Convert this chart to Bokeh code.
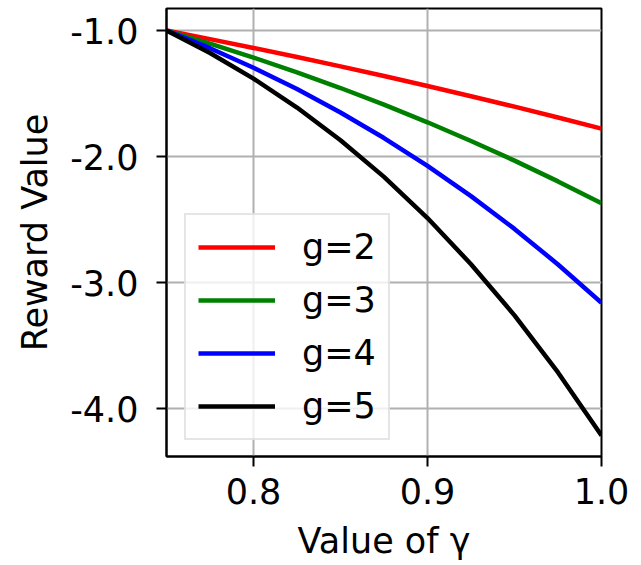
from bokeh.plotting import figure
from bokeh.models import Range1d, FixedTicker, Legend, LegendItem, CustomJSTickFormatter
from bokeh.embed import file_html
from bokeh.resources import INLINE

gamma = [0.75, 0.775, 0.8, 0.825, 0.85, 0.875, 0.9, 0.925, 0.95, 0.975, 1.0]
g2 = [-1.0, -1.068, -1.138, -1.21, -1.284, -1.361, -1.44, -1.521, -1.604, -1.69, -1.778]
g3 = [-1.0, -1.103, -1.214, -1.331, -1.456, -1.588, -1.728, -1.876, -2.032, -2.197, -2.37]
g4 = [-1.0, -1.14, -1.295, -1.464, -1.65, -1.853, -2.074, -2.314, -2.574, -2.856, -3.16]
g5 = [-1.0, -1.178, -1.381, -1.611, -1.87, -2.161, -2.488, -2.854, -3.26, -3.713, -4.214]
labels = ["g=2", "g=3", "g=4", "g=5"]
colors = ["#ff0000", "#008000", "#0000ff", "#000000"]
x_ticks = [0.8, 0.9, 1.0]
y_ticks = [-1.0, -2.0, -3.0, -4.0]

FONT = "DejaVu Sans"

p = figure(width=641, height=565, output_backend="svg", toolbar_location=None,
           x_range=Range1d(0.75, 1.0), y_range=Range1d(-4.38, -0.825),
           min_border_left=166, min_border_right=40, min_border_top=8, min_border_bottom=109)

renderers = []
for ys, c in zip([g2, g3, g4, g5], colors):
    r = p.line(gamma, ys, line_color=c, line_width=4.5)
    renderers.append(r)

p.outline_line_color = "black"
p.outline_line_width = 2
p.background_fill_color = "white"

for ax in (p.xaxis[0], p.yaxis[0]):
    ax.axis_line_width = 2
    ax.axis_line_color = "black"
    ax.major_tick_line_width = 2
    ax.major_tick_in = 0
    ax.major_tick_out = 10
    ax.minor_tick_line_color = None
    ax.major_label_text_font = FONT
    ax.major_label_text_font_size = "35px"
    ax.major_label_text_color = "black"
    ax.axis_label_text_font = FONT
    ax.axis_label_text_font_size = "35px"
    ax.axis_label_text_font_style = "normal"
    ax.axis_label_text_color = "black"

p.xaxis[0].ticker = FixedTicker(ticks=x_ticks)
p.yaxis[0].ticker = FixedTicker(ticks=y_ticks)
p.xaxis[0].formatter = CustomJSTickFormatter(code="return tick.toFixed(1);")
p.yaxis[0].formatter = CustomJSTickFormatter(code="return tick.toFixed(1);")
p.xaxis[0].major_label_standoff = 11
p.yaxis[0].major_label_standoff = 18
p.xaxis[0].axis_label = "Value of γ"
p.yaxis[0].axis_label = "Reward Value"
p.xaxis[0].axis_label_standoff = 14
p.yaxis[0].axis_label_standoff = 12

p.xgrid[0].ticker = FixedTicker(ticks=x_ticks)
p.ygrid[0].ticker = FixedTicker(ticks=y_ticks)
for gr in (p.xgrid[0], p.ygrid[0]):
    gr.grid_line_color = "#b0b0b0"
    gr.grid_line_width = 2

legend = Legend(items=[LegendItem(label=l, renderers=[r]) for l, r in zip(labels, renderers)],
                location=(18, 16))
legend.label_text_font = FONT
legend.label_text_font_size = "35px"
legend.label_text_color = "black"
legend.glyph_width = 77
legend.glyph_height = 40
legend.label_height = 40
legend.label_standoff = 27
legend.spacing = 13
legend.padding = 12
legend.margin = 0
legend.border_line_color = "#cccccc"
legend.border_line_width = 2
legend.background_fill_alpha = 0.8
p.add_layout(legend)

open("out.html", "w").write(file_html(p, INLINE))
